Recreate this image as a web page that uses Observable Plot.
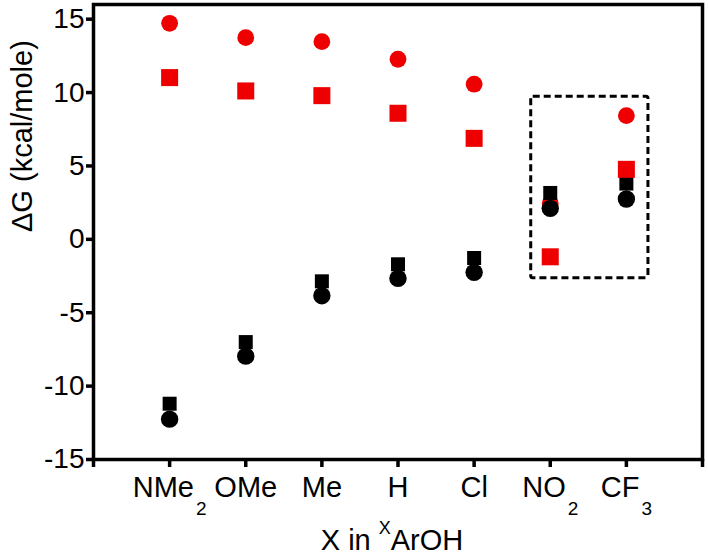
<!DOCTYPE html>
<html><head><meta charset="utf-8">
<script src="https://cdn.jsdelivr.net/npm/d3@7"></script>
<script src="https://cdn.jsdelivr.net/npm/@observablehq/plot@0.6"></script>
<style>
body{margin:0;background:#fff}
svg{font-family:"Liberation Sans",Arial,sans-serif}
</style>
</head><body><div id="chart"></div>
<script>
// categories (substituent X), main text + subscript
const labelMain = ["NMe", "OMe", "Me", "H", "Cl", "NO", "CF"];
const labelSub  = ["2",   "",    "",   "",  "",   "2",  "3"];
const catPos = [1, 2, 3, 4, 5, 6, 7];
const xTickPos = [0, 1, 2, 3, 4, 5, 6, 7, 8];
const yTicks = [-15, -10, -5, 0, 5, 10, 15];

// series values (kcal/mole)
const redCircle   = [14.72, 13.74, 13.47, 12.27, 10.57, 2.45, 8.43];
const redSquare   = [11.02, 10.11, 9.79, 8.59, 6.88, -1.19, 4.77];
const blackSquare = [-11.2, -7.0, -2.86, -1.7, -1.27, 3.16, 3.8];
const blackCircle = [-12.25, -7.96, -3.84, -2.66, -2.25, 2.11, 2.75];

// dashed highlight box (data coordinates)
const boxX = [5.75, 7.29];
const boxY = [-2.65, 9.72];

const yTitle = "ΔG (kcal/mole)";
const xTitleParts = ["X in ", "X", "ArOH"];

const rows = vals => catPos.map((x, i) => ({x, y: vals[i]}));
const RED = "#ee0000";

const plot = Plot.plot({
  width: 708, height: 554,
  marginLeft: 93, marginRight: 6, marginTop: 4, marginBottom: 95,
  style: {fontFamily: '"Liberation Sans", Arial, sans-serif', fontSize: "28px", color: "black", background: "white", overflow: "visible"},
  x: {domain: [0, 8]},
  y: {domain: [-15, 16]},
  marks: [
    Plot.rect([{x1: boxX[0], x2: boxX[1], y1: boxY[0], y2: boxY[1]}],
      {x1: "x1", x2: "x2", y1: "y1", y2: "y2", fill: "none", stroke: "black", strokeWidth: 3, strokeDasharray: "7,4", rx: 2}),
    Plot.dot(rows(redCircle), {x: "x", y: "y", symbol: "circle", r: 8.4, fill: RED}),
    Plot.dot(rows(blackSquare), {x: "x", y: "y", symbol: "square", r: 7.9, fill: "black"}),
    Plot.dot(rows(blackCircle), {x: "x", y: "y", symbol: "circle", r: 8.7, fill: "black"}),
    Plot.dot(rows(redSquare), {x: "x", y: "y", symbol: "square", r: 9.6, fill: RED}),
    Plot.frame({stroke: "black", strokeWidth: 3.5}),
    Plot.axisY({ticks: yTicks, tickSize: 7, tickPadding: 2, strokeWidth: 3.5, fontSize: 28, label: null,
      tickFormat: d => String(d)}),
    Plot.axisX({ticks: xTickPos, tickSize: 8, tickPadding: 9, strokeWidth: 3.5, fontSize: 29, label: null,
      tickFormat: d => {
        const i = catPos.indexOf(d);
        return i < 0 ? "" : labelMain[i] + (labelSub[i] ? "_" + labelSub[i] : "");
      }}),
    Plot.text([yTitle], {text: d => d, frameAnchor: "left", rotate: -90, dx: -71, fontSize: 29}),
    Plot.text([xTitleParts.join("")], {text: d => d, frameAnchor: "bottom", lineAnchor: "bottom", dy: 90, dx: -6, fontSize: 29})
  ]
});

const NS = "http://www.w3.org/2000/svg";
plot.querySelectorAll('g[aria-label="x-axis tick label"] text').forEach(t => {
  const s = t.textContent;
  if (s.includes("_")) {
    const [m, sub] = s.split("_");
    t.textContent = m;
    const ts = document.createElementNS(NS, "tspan");
    ts.setAttribute("dy", "18");
    ts.setAttribute("dx", "2");
    ts.setAttribute("font-size", "19");
    ts.textContent = sub;
    t.appendChild(ts);
  }
});
const full = xTitleParts.join("");
const xt = Array.from(plot.querySelectorAll("text")).find(t => t.textContent === full);
if (xt) {
  xt.textContent = xTitleParts[0];
  const sup = document.createElementNS(NS, "tspan");
  sup.setAttribute("dy", "-16");
  sup.setAttribute("font-size", "18");
  sup.textContent = xTitleParts[1];
  const rest = document.createElementNS(NS, "tspan");
  rest.setAttribute("dy", "16");
  rest.textContent = xTitleParts[2];
  xt.appendChild(sup);
  xt.appendChild(rest);
}
document.getElementById("chart").appendChild(plot);
</script>
</body></html>
